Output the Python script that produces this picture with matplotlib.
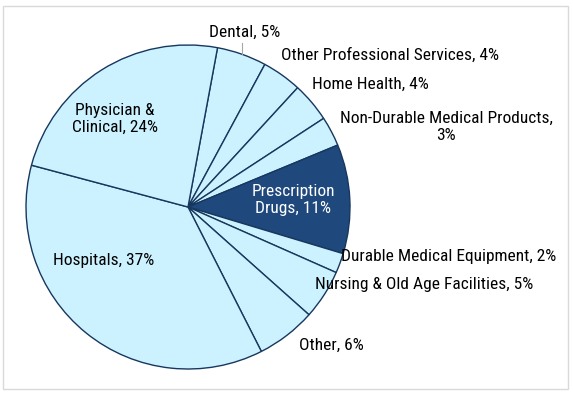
import numpy as np
import matplotlib
matplotlib.use("Agg")
import matplotlib.pyplot as plt

plt.rcParams['font.family'] = ['Roboto Condensed', 'Liberation Sans', 'DejaVu Sans']

# spending shares, clockwise from the top
categories = ['Dental', 'Other Professional Services', 'Home Health',
              'Non-Durable Medical Products', 'Prescription Drugs',
              'Durable Medical Equipment', 'Nursing & Old Age Facilities',
              'Other', 'Hospitals', 'Physician & Clinical']
shares = [5, 4, 4, 3, 11, 2, 5, 6, 37, 24]
label_text = ['Dental, 5%', 'Other Professional Services, 4%', 'Home Health, 4%',
              'Non-Durable Medical Products,\n3%', 'Prescription\nDrugs, 11%',
              'Durable Medical Equipment, 2%', 'Nursing & Old Age Facilities, 5%',
              'Other, 6%', 'Hospitals, 37%', 'Physician &\nClinical, 24%']

light = '#CCF2FF'
dark = '#1F497D'
edge = '#17375E'

W, H = 573, 395
cx, cy, R = 188, 207, 162

fig = plt.figure(figsize=(W / 100, H / 100), dpi=100)
ax = fig.add_axes([(cx - R) / W, (H - cy - R) / H, 2 * R / W, 2 * R / H])

colors = [dark if c == 'Prescription Drugs' else light for c in categories]
wedges, _ = ax.pie(shares, colors=colors, startangle=79.5, counterclock=False,
                   wedgeprops=dict(edgecolor=edge, linewidth=1.0))
ax.set_xlim(-1, 1)
ax.set_ylim(-1, 1)
ax.set_aspect('equal')
ax.axis('off')

def px(x, y):
    # pixel position in the picture -> data coords of the pie axes
    return (x - cx) / R, (cy - y) / R

# label anchors in pixels (center of text)
anchors = [(245, 32), (390, 55), (370, 84), (446, 127), (293, 200),
           (449, 256), (424, 284), (331, 345), (104, 261), (115, 119)]
for i, (t, (x, y)) in enumerate(zip(label_text, anchors)):
    dx, dy = px(x, y)
    ax.text(dx, dy, t, ha='center', va='center', fontsize=12.5,
            color='white' if categories[i] == 'Prescription Drugs' else 'black',
            linespacing=1.15, clip_on=False)

# leader line for Dental
w = wedges[0]
mid = np.deg2rad((w.theta1 + w.theta2) / 2)
ax.plot([np.cos(mid), np.cos(mid)], [np.sin(mid), np.sin(mid) + 0.07],
        color='#A6A6A6', lw=0.8, clip_on=False)

# outer frame
fig.patches.append(plt.Rectangle((3 / W, 6 / H), 565 / W, 383 / H,
                                 transform=fig.transFigure, fill=False,
                                 edgecolor='#D9D9D9', lw=1))

fig.savefig('out.png', dpi=100)
